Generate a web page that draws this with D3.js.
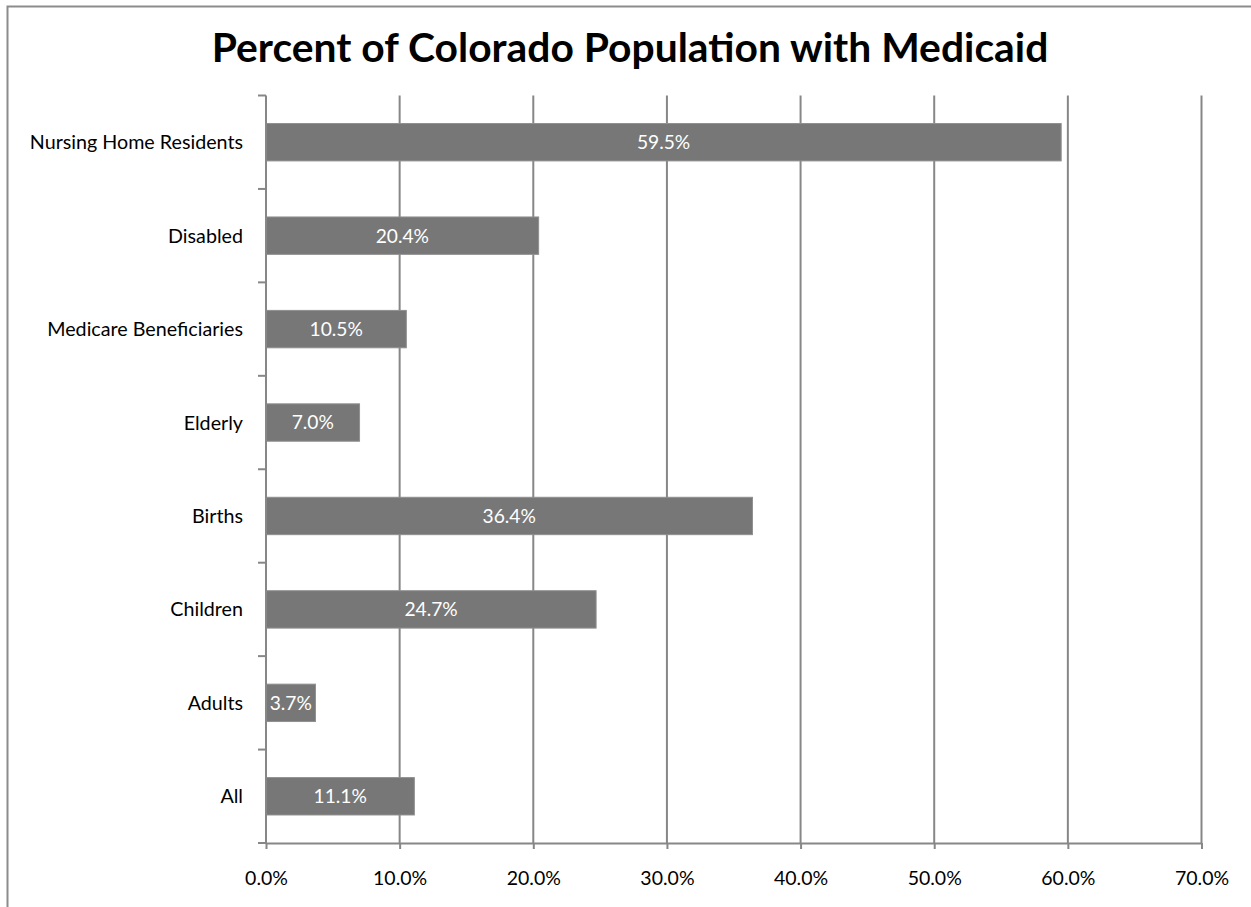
<!DOCTYPE html>
<html>
<head>
<meta charset="utf-8">
<script src="https://cdn.jsdelivr.net/npm/d3@7"></script>
<style>
  html, body { margin: 0; padding: 0; background: #fff; }
  svg { display: block; }
  text { font-family: Lato, "Open Sans", sans-serif; }
</style>
</head>
<body>
<svg id="chart" width="1251" height="907"></svg>
<script>
const title = "Percent of Colorado Population with Medicaid";
const categories = ["Nursing Home Residents", "Disabled", "Medicare Beneficiaries", "Elderly", "Births", "Children", "Adults", "All"];
const values = [59.5, 20.4, 10.5, 7.0, 36.4, 24.7, 3.7, 11.1];
const xTicks = [0, 10, 20, 30, 40, 50, 60, 70];

const svg = d3.select("#chart");
const W = 1251, H = 907;
const m = { left: 266, right: 1201.5, top: 95.5, bottom: 843 };

// outer border
svg.append("rect").attr("x", 7.5).attr("y", 6.5).attr("width", W + 10).attr("height", H + 10)
  .attr("fill", "none").attr("stroke", "#8c8c8c").attr("stroke-width", 2);

// title
svg.append("text").attr("x", 630).attr("y", 62).attr("text-anchor", "middle")
  .attr("font-size", 40.8).attr("font-weight", "bold").attr("fill", "#000").text(title);

const x = d3.scaleLinear().domain([0, 70]).range([m.left, m.right]);
const y = d3.scaleBand().domain(categories).range([m.top, m.bottom]).paddingInner(0.6).paddingOuter(0.3);
const yb = d3.scaleBand().domain(categories).range([m.top, m.bottom]).padding(0);

// gridlines
svg.append("g").selectAll("line").data(xTicks.slice(1)).join("line")
  .attr("x1", d => x(d)).attr("x2", d => x(d))
  .attr("y1", m.top).attr("y2", m.bottom)
  .attr("stroke", "#878787").attr("stroke-width", 2);

// bars
svg.append("g").selectAll("rect").data(values).join("rect")
  .attr("x", x(0)).attr("y", (d, i) => y(categories[i]))
  .attr("width", d => x(d) - x(0)).attr("height", y.bandwidth())
  .attr("fill", "#777777").attr("stroke", "#8f8f8f").attr("stroke-width", 1);

// bar labels (clipped to bar)
const defs = svg.append("defs");
values.forEach((v, i) => {
  defs.append("clipPath").attr("id", "clip" + i).append("rect")
    .attr("x", x(0)).attr("y", y(categories[i]))
    .attr("width", x(v) - x(0)).attr("height", y.bandwidth());
});
svg.append("g").selectAll("text").data(values).join("text")
  .attr("clip-path", (d, i) => `url(#clip${i})`)
  .attr("x", d => (x(0) + x(d)) / 2)
  .attr("y", (d, i) => y(categories[i]) + y.bandwidth() / 2)
  .attr("dy", "0.36em").attr("text-anchor", "middle")
  .attr("font-size", 19.2).attr("fill", "#fff")
  .text(d => d.toFixed(1) + "%");

// x axis
const xAxis = d3.axisBottom(x).tickValues(xTicks).tickSize(6).tickSizeOuter(0).tickFormat(d => d.toFixed(1) + "%");
const gx = svg.append("g").attr("transform", `translate(0,${m.bottom})`).call(xAxis);
gx.select(".domain").attr("stroke", "#878787").attr("stroke-width", 2);
gx.selectAll(".tick line").attr("stroke", "#878787").attr("stroke-width", 2);
gx.selectAll(".tick text").attr("font-size", 19.5).attr("fill", "#000").attr("dy", 0).attr("y", 42)
  .style("font-family", "Lato, sans-serif");

// y axis line and ticks at band boundaries
svg.append("line").attr("x1", m.left).attr("x2", m.left).attr("y1", m.top).attr("y2", m.bottom)
  .attr("stroke", "#878787").attr("stroke-width", 2);
const bounds = categories.map(c => yb(c)).concat([m.bottom]);
svg.append("g").selectAll("line").data(bounds).join("line")
  .attr("x1", m.left - 8).attr("x2", m.left)
  .attr("y1", d => d).attr("y2", d => d)
  .attr("stroke", "#878787").attr("stroke-width", 2);

// category labels
svg.append("g").selectAll("text").data(categories).join("text")
  .attr("x", m.left - 23).attr("y", d => yb(d) + yb.bandwidth() / 2)
  .attr("dy", "0.36em").attr("text-anchor", "end")
  .attr("font-size", 19.7).attr("fill", "#000").text(d => d);
</script>
</body>
</html>
